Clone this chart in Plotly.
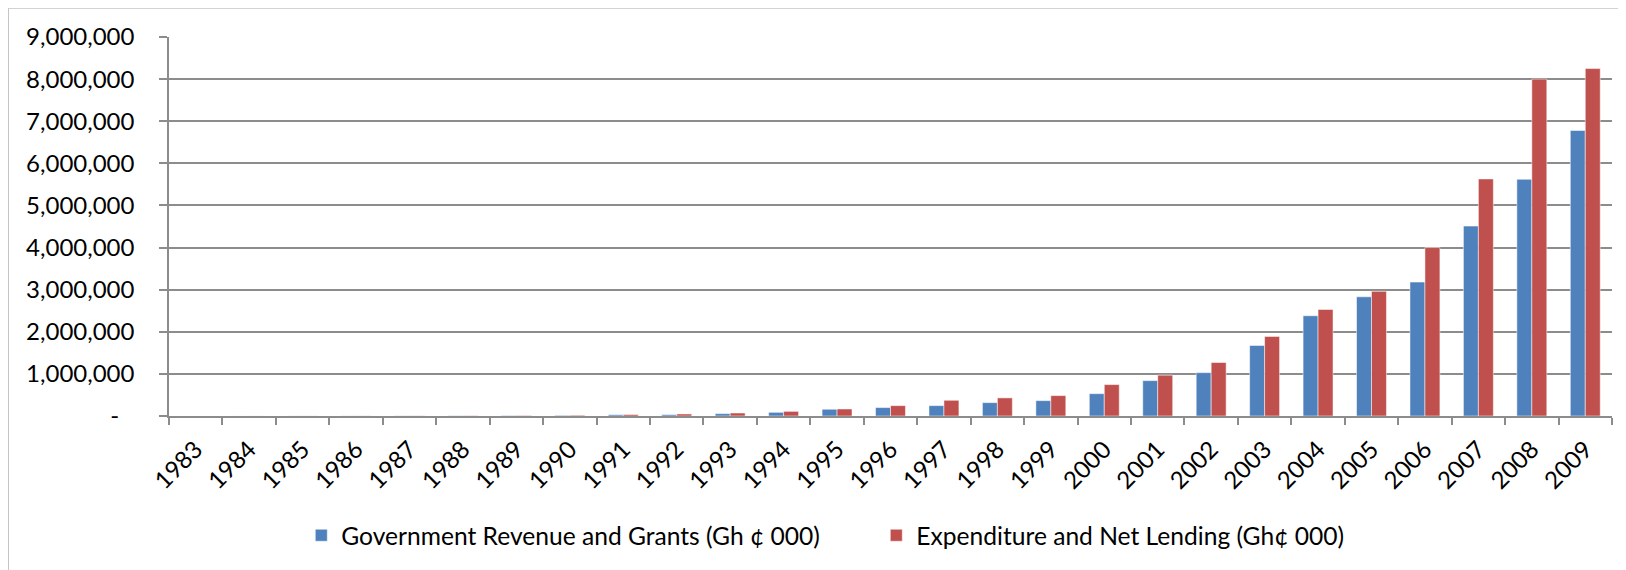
import plotly.graph_objects as go

years = [str(y) for y in range(1983, 2010)]

revenue = [600, 1000, 2000, 3000, 4000, 6000, 10000, 15000, 30000, 32000,
           56000, 87000, 160000, 200000, 246000, 317000, 365000, 530000,
           840000, 1030000, 1675000, 2380000, 2830000, 3180000, 4510000,
           5620000, 6780000]

expenditure = [700, 1200, 2300, 3500, 5000, 7000, 12000, 18000, 35000, 48000,
               71000, 110000, 167000, 246000, 373000, 430000, 484000, 746000,
               970000, 1270000, 1890000, 2530000, 2960000, 4000000, 5630000,
               8000000, 8250000]

y_ticks = [0, 1000000, 2000000, 3000000, 4000000, 5000000, 6000000,
           7000000, 8000000, 9000000]
# accounting style: zero shows as a dash with trailing padding
y_tick_text = ["-\u00a0\u00a0\u2009"] + [f"{v:,}" for v in y_ticks[1:]]

font_family = "Lato, 'Noto Sans', sans-serif"
grid_col = "#8c8c8c"

fig = go.Figure()

fig.add_trace(go.Bar(
    x=years, y=revenue,
    name="Government Revenue and Grants (Gh \u00a2 000)",
    marker=dict(color="#4F81BD", line=dict(color="rgba(255,255,255,0.5)", width=1))
))

fig.add_trace(go.Bar(
    x=years, y=expenditure,
    name="Expenditure and Net Lending (Gh\u00a2 000)",
    marker=dict(color="#C0504D", line=dict(color="rgba(255,255,255,0.5)", width=1))
))

# light frame around the whole chart area
fig.add_shape(
    type="rect", xref="paper", yref="paper",
    x0=-0.1113, x1=1.0071, y0=-0.5, y1=1.076,
    line=dict(color="#BFBFBF", width=1), fillcolor="rgba(0,0,0,0)",
    layer="below"
)

fig.update_layout(
    width=1626, height=570,
    margin=dict(l=161, r=22, t=29, b=162),
    paper_bgcolor="white", plot_bgcolor="white",
    barmode="group", bargap=0.44, bargroupgap=0,
    font=dict(family=font_family, size=24, color="black"),
    showlegend=True,
    legend=dict(
        orientation="h",
        xref="container", yref="container",
        x=0.534, y=0.075, xanchor="center", yanchor="middle",
        font=dict(size=24.6),
        itemwidth=30,
        entrywidth=530,
    ),
    xaxis=dict(
        type="category",
        tickangle=-45,
        tickson="boundaries",
        ticks="outside", ticklen=7, tickcolor=grid_col, tickwidth=1.5,
        showline=True, linecolor=grid_col, linewidth=1.5,
        showgrid=False,
        ticklabelstandoff=8,
        tickfont=dict(size=24),
    ),
    yaxis=dict(
        range=[0, 9000000],
        tickvals=y_ticks, ticktext=y_tick_text,
        ticks="outside", ticklen=8, tickcolor=grid_col, tickwidth=1.5,
        showline=True, linecolor=grid_col, linewidth=1.5,
        showgrid=True, gridcolor=grid_col, gridwidth=1.5,
        zeroline=False,
        ticklabelstandoff=20,
        tickfont=dict(size=24),
    ),
)

fig.write_html("out.html")
